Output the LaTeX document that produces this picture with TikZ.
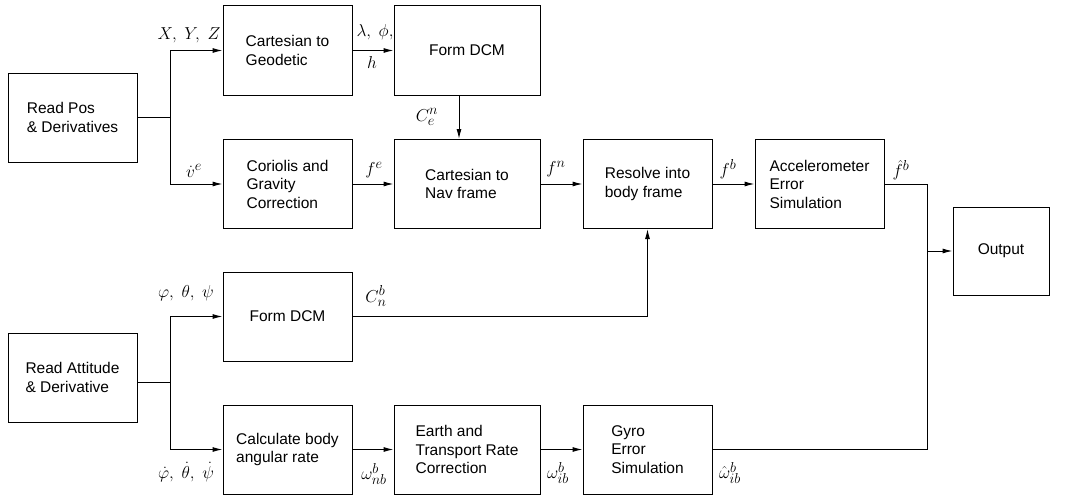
\documentclass[tikz,border=0pt]{standalone}
\usepackage{fontspec}
\setmainfont{Liberation Sans}
\usetikzlibrary{arrows.meta}
\DeclareMathSizes{18}{18}{13.5}{10}
\begin{document}
\begin{tikzpicture}[x=1pt,y=-1pt,
  blk/.style={draw, line width=1pt, minimum width=129pt, minimum height=89pt, align=left, font=\fontsize{15.5}{18.5}\selectfont, inner sep=0pt},
  wblk/.style={blk, minimum width=146pt},
  lbl/.style={font=\fontsize{18}{20}\selectfont, inner sep=0pt},
  arr/.style={line width=1pt, -{Latex[length=10pt,width=5pt]}},
  ln/.style={line width=1pt}]
\useasboundingbox (0,0) rectangle (1070,495);
% blocks
\node[blk]  (rpos)  at (72.5,117.5) {Read Pos\\\& Derivatives};
\node[blk]  (cg)    at (287.5,50.5) {Cartesian to\\Geodetic};
\node[wblk] (fdcm1) at (467,50.5)   {Form DCM};
\node[blk]  (cor)   at (287.5,184)  {Coriolis and\\Gravity\\Correction};
\node[wblk] (cnav)  at (467,184)    {Cartesian to\\Nav frame};
\node[blk]  (res)   at (647.5,184)  {Resolve into\\body frame};
\node[blk]  (acc)   at (819.5,184)  {Accelerometer\\Error\\Simulation};
\node[blk, minimum width=96pt, minimum height=88pt] (out) at (1001,251) {Output};
\node[blk]  (ratt)  at (72.5,377.5) {Read Attitude\\\& Derivative};
\node[blk]  (fdcm2) at (287.5,316.5){Form DCM};
\node[blk]  (calc)  at (287.5,449.5){Calculate body\\angular rate};
\node[wblk] (etr)   at (467,449.5)  {Earth and\\Transport Rate\\Correction};
\node[blk]  (gyro)  at (647.5,449.5){Gyro\\Error\\Simulation};
% junctions
\coordinate (j1) at (170,117.5);
\coordinate (j3) at (170,382);
\coordinate (jo) at (927,251);
% connectors
\draw[ln] (rpos.east) -- (j1);
\draw[arr] (j1) |- (cg.west);
\draw[arr] (j1) |- (cor.west);
\draw[arr] (cg.east) -- (fdcm1.west);
\draw[arr] ([xshift=-8pt]fdcm1.south) -- ([xshift=-8pt]cnav.north);
\draw[arr] (cor.east) -- (cnav.west);
\draw[arr] (cnav.east) -- (res.west);
\draw[arr] (res.east) -- (acc.west);
\draw[arr] (acc.east) -| (jo) -- (out.west);
\draw[ln] (gyro.east) -| (jo);
\draw[ln] (j3 -| ratt.east) -- (j3);
\draw[arr] (j3) |- (fdcm2.west);
\draw[arr] (j3) |- (calc.west);
\draw[arr] (fdcm2.east) -| (res.south);
\draw[arr] (calc.east) -- (etr.west);
\draw[arr] (etr.east) -- (gyro.west);
% labels
\node[lbl] (lxyz) at (189,35)  {$X,\;Y,\;Z$};
\node[lbl] (llp)  at (375,32)  {$\lambda,\;\phi,$};
\node[lbl] (lh)   at (372,63)  {$h$};
\node[lbl] (lcen) at (427,117) {$C_e^n$};
\node[lbl] (lve)  at (194,171) {$\dot v^e$};
\node[lbl] (lfe)  at (374,170) {$f^e$};
\node[lbl] (lfn)  at (556,169) {$f^n$};
\node[lbl] (lfb)  at (728,169) {$f^b$};
\node[lbl] (lfhb) at (901,170) {$\hat f^b$};
\node[lbl] (latt) at (186,293) {$\varphi,\;\theta,\;\psi$};
\node[lbl] (lcnb) at (376,296) {$C_n^b$};
\node[lbl] (ldot) at (186,472) {$\dot\varphi,\;\dot\theta,\;\dot\psi$};
\node[lbl] (lwnb) at (374,474) {$\omega_{nb}^b$};
\node[lbl] (lwib) at (558,473) {$\omega_{ib}^b$};
\node[lbl] (lwh)  at (730,473) {$\hat\omega_{ib}^b$};
\end{tikzpicture}
\end{document}
